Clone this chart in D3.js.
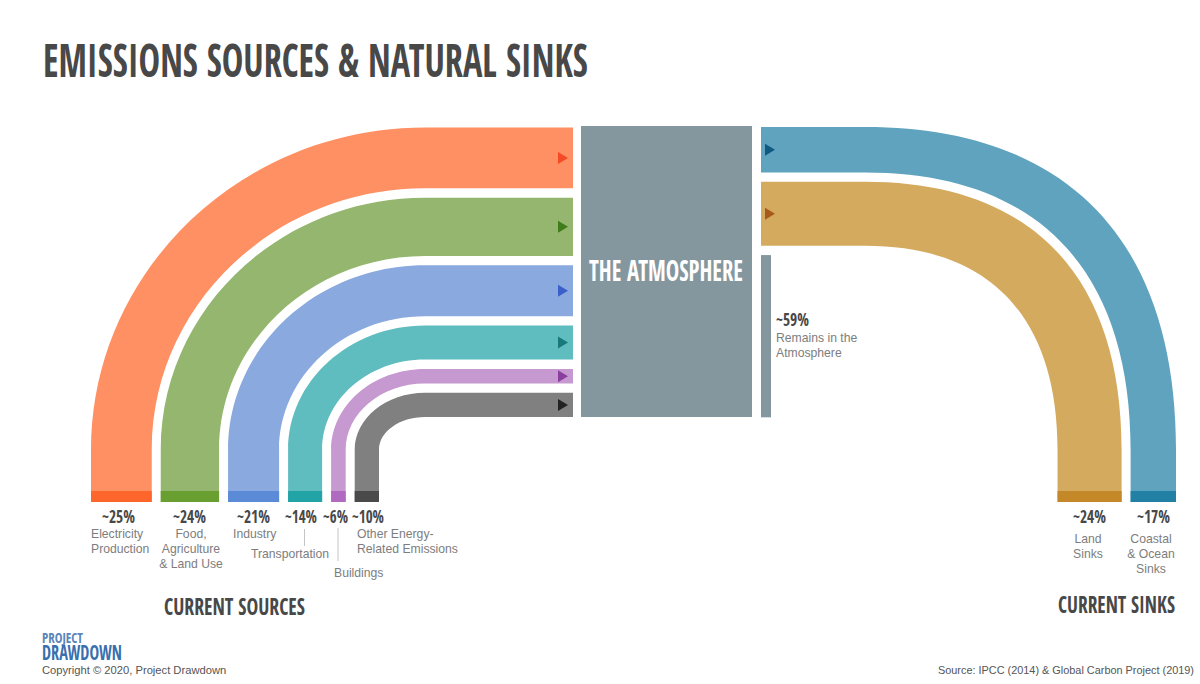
<!DOCTYPE html>
<html>

<head>
	<meta charset="utf-8">
	<title>Emissions Sources & Natural Sinks</title>
	<style>
		html,
		body {
			margin: 0;
			padding: 0;
			background: #fff;
		}

		svg {
			display: block;
		}

		.cond {
			font-family: "Open Sans Condensed", "Roboto Condensed", "Liberation Sans", sans-serif;
			font-weight: bold;
			fill: #484848;
		}

		.body {
			font-family: "Liberation Sans", sans-serif;
			font-size: 12.2px;
			fill: #7d7d7d;
		}

		.foot {
			font-family: "Liberation Sans", sans-serif;
			fill: #555;
		}
	</style>
</head>

<body>
	<svg id='chart' width='1200' height='684'></svg>
	<script src='https://cdn.jsdelivr.net/npm/d3@7/dist/d3.min.js'></script>
	<script>
		var sourceNames = ['Electricity Production', 'Food, Agriculture & Land Use', 'Industry', 'Transportation', 'Buildings', 'Other Energy-Related Emissions']
		var sourceValues = [25, 24, 21, 14, 6, 10]
		var sourceColors = ['#ff9063', '#94b66e', '#8aa9de', '#5fbcbf', '#c69ad0', '#808080']
		var sourceCaps = ['#ff662c', '#699e30', '#5b8ad6', '#22a3a6', '#b06bc0', '#4a4a4a']
		var sourceArrows = ['#f44a25', '#3f7c1c', '#3b5fc8', '#17797c', '#8a3f9e', '#222222']

		var sinkNames = ['Coastal & Ocean Sinks', 'Land Sinks']
		var sinkValues = [17, 24]
		var sinkColors = ['#5fa3bf', '#d4aa5f']
		var sinkCaps = ['#2280a5', '#c48828']
		var sinkArrows = ['#0f5a80', '#a85a1a']
		var remainValue = 59

		var svg = d3.select('#chart')

		var bottom = 502
		var capTop = 491
		var gap = 9
		var gapY = 9.3

		// band thickness, each side was drawn at its own scale in the original
		var leftScale = d3.scaleLinear().domain([0, 100]).range([0, 243])
		var rightScale = d3.scaleLinear().domain([0, 100]).range([0, 267])
		var remainScale = d3.scaleLinear().domain([0, 100]).range([0, 275])

		function bandPath(x0, x1, y0, y1, endX, cx, cy, k) {
			// x0 is the outer edge, x1 the inner edge
			var p = d3.path()
			p.moveTo(x0, bottom)
			p.lineTo(x0, cy)
			p.bezierCurveTo(x0, cy - k * (cy - y0), cx + k * (x0 - cx), y0, cx, y0)
			p.lineTo(endX, y0)
			p.lineTo(endX, y1)
			p.lineTo(cx, y1)
			p.bezierCurveTo(cx + k * (x1 - cx), y1, x1, cy - k * (cy - y1), x1, cy)
			p.lineTo(x1, bottom)
			p.closePath()
			return p.toString()
		}

		function triangle(x, y, color) {
			svg.append('path')
				.attr('d', 'M' + x + ',' + (y - 6) + 'L' + (x + 10) + ',' + y + 'L' + x + ',' + (y + 6) + 'Z')
				.attr('fill', color)
		}

		// left side
		var xPos = 91
		var yPos = 127.6
		sourceValues.forEach(function (v, i) {
			var w = leftScale(v)
			svg.append('path')
				.attr('d', bandPath(xPos, xPos + w, yPos, yPos + w, 573, 425, 450, 0.5523))
				.attr('fill', sourceColors[i])
			svg.append('rect')
				.attr('x', xPos).attr('y', capTop)
				.attr('width', w).attr('height', bottom - capTop)
				.attr('fill', sourceCaps[i])
			triangle(558, yPos + w / 2, sourceArrows[i])
			xPos += w + gap
			yPos += w + gapY
		})

		// right side
		var xRight = 1176
		var yRight = 127
		sinkValues.forEach(function (v, i) {
			var w = rightScale(v)
			svg.append('path')
				.attr('d', bandPath(xRight, xRight - w, yRight, yRight + w, 761, 865, 450, 0.65))
				.attr('fill', sinkColors[i])
			svg.append('rect')
				.attr('x', xRight - w).attr('y', capTop)
				.attr('width', w).attr('height', bottom - capTop)
				.attr('fill', sinkCaps[i])
			triangle(765, yRight + w / 2, sinkArrows[i])
			xRight -= w + gap
			yRight += w + gapY
		})

		// atmosphere block and what stays in it
		svg.append('rect').attr('x', 581).attr('y', 126).attr('width', 171).attr('height', 291).attr('fill', '#84979f')
		svg.append('rect').attr('x', 761).attr('y', yRight).attr('width', 10).attr('height', remainScale(remainValue)).attr('fill', '#84979f')

		// bold condensed text, squeezed to the measured width
		function cond(text, x0, x1, y, size, fill) {
			var t = svg.append('text')
				.attr('class', 'cond')
				.attr('font-size', size)
				.style('fill', fill || null)
				.text(text)
			var sx = (x1 - x0) / t.node().getComputedTextLength()
			t.attr('transform', 'translate(' + x0 + ',' + y + ') scale(' + sx + ',1)')
		}

		function body(lines, x, y, anchor) {
			lines.forEach(function (line, i) {
				svg.append('text')
					.attr('class', 'body')
					.attr('x', x).attr('y', y + i * 15)
					.attr('text-anchor', anchor || 'start')
					.text(line)
			})
		}

		cond('EMISSIONS SOURCES & NATURAL SINKS', 43, 588, 77, 46)
		cond('THE ATMOSPHERE', 589, 743, 281, 29, '#fff')
		cond('CURRENT SOURCES', 164, 305, 615, 24)
		cond('CURRENT SINKS', 1058, 1175, 613, 24)

		cond('~' + sourceValues[0] + '%', 102, 135, 523, 18)
		cond('~' + sourceValues[1] + '%', 173, 206, 523, 18)
		cond('~' + sourceValues[2] + '%', 237, 270, 523, 18)
		cond('~' + sourceValues[3] + '%', 285, 317, 523, 18)
		cond('~' + sourceValues[4] + '%', 323, 348, 523, 18)
		cond('~' + sourceValues[5] + '%', 352, 384, 523, 18)
		cond('~' + sinkValues[1] + '%', 1073, 1106, 523, 18)
		cond('~' + sinkValues[0] + '%', 1137, 1170, 523, 18)
		cond('~' + remainValue + '%', 776, 809, 326, 18)

		body(['Electricity', 'Production'], 91, 538)
		body(['Food,', 'Agriculture', '& Land Use'], 191, 538, 'middle')
		body(['Industry'], 233, 538)
		body(['Transportation'], 251, 558)
		body(['Buildings'], 334, 577)
		body(['Other Energy-', 'Related Emissions'], 357, 538)
		body(['Land', 'Sinks'], 1088, 543, 'middle')
		body(['Coastal', '& Ocean', 'Sinks'], 1151, 543, 'middle')
		body(['Remains in the', 'Atmosphere'], 776, 342)

		// leader lines
		svg.append('line').attr('x1', 304.5).attr('x2', 304.5).attr('y1', 529).attr('y2', 546).attr('stroke', '#c4c4c4')
		svg.append('line').attr('x1', 338).attr('x2', 338).attr('y1', 528).attr('y2', 561).attr('stroke', '#c4c4c4')

		// logo
		cond('PROJECT', 42, 83, 643, 14, '#5b86b8')
		cond('DRAWDOWN', 42, 122, 660, 21, '#3a6fae')

		svg.append('text').attr('class', 'foot').attr('font-size', 11.2).attr('x', 42).attr('y', 674).text('Copyright © 2020, Project Drawdown')
		svg.append('text').attr('class', 'foot').attr('font-size', 10.9).attr('x', 1194).attr('y', 674).attr('text-anchor', 'end').text('Source: IPCC (2014) & Global Carbon Project (2019)')
	</script>
</body>

</html>
